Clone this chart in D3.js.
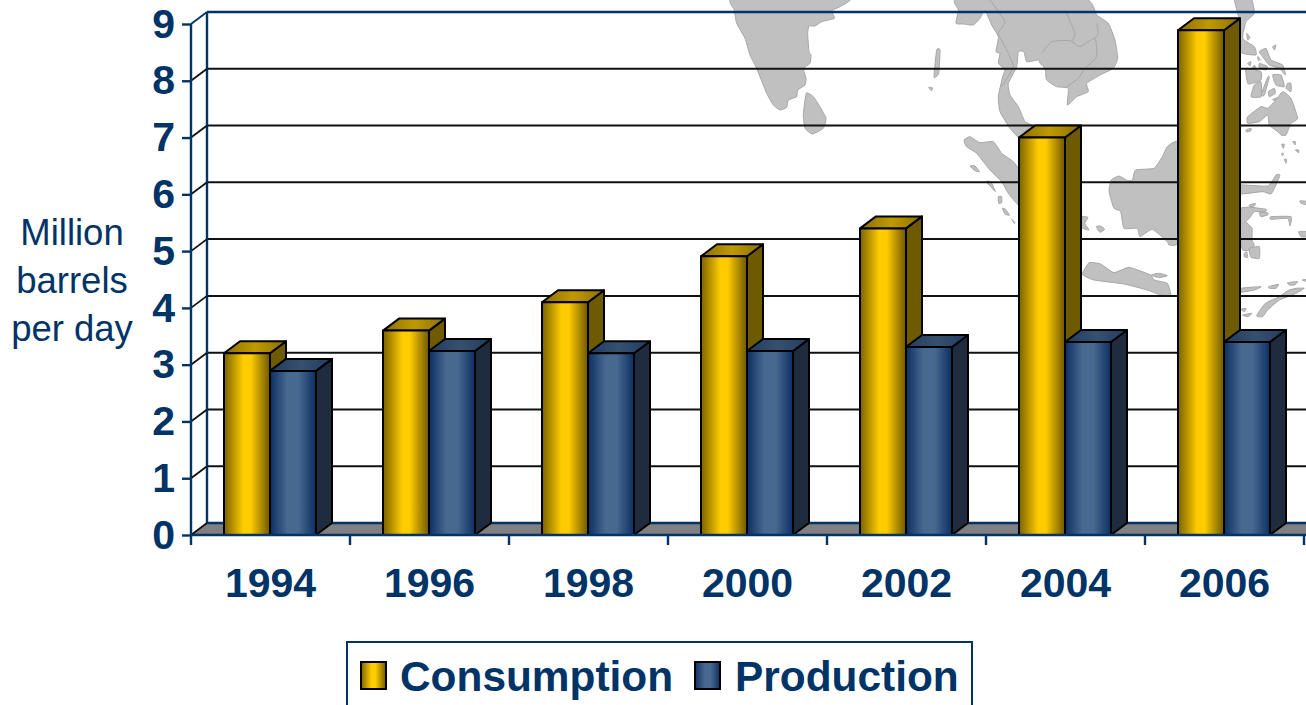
<!DOCTYPE html>
<html><head><meta charset="utf-8">
<script src="https://cdnjs.cloudflare.com/ajax/libs/d3/7.8.5/d3.min.js"></script>
<style>html,body{margin:0;padding:0;background:#fff;overflow:hidden}svg{display:block}text{font-family:"Liberation Sans",Arial,sans-serif;fill:#003366}</style>
</head><body><svg id="c" width="1306" height="705"></svg>
<script>
const years=["1994","1996","1998","2000","2002","2004","2006"];
const seriesNames=["Consumption","Production"];
const consumption=[3.2,3.6,4.1,4.91,5.4,7.0,8.89];
const production=[2.89,3.24,3.2,3.24,3.31,3.4,3.4];
const yTicks=[0,1,2,3,4,5,6,7,8,9];
const yTitle=["Million","barrels","per day"];

// Background map outlines: traced at 3x, each group has its own origin
const mapIndia={o:[725,0],s:[
 [[25,-6],[370,-6],[345,20],[320,32],[328,55],[290,65],[270,78],[252,78],[248,100],[252,155],[258,165],[255,190],[235,205],[243,235],[240,255],[218,270],[215,290],[190,300],[185,322],[165,330],[145,315],[125,280],[95,205],[75,165],[60,115],[35,70],[28,30]],
 [[245,278],[265,290],[285,320],[303,355],[295,385],[262,402],[240,385],[235,345],[240,300]]]};
const mapMainland={o:[950,0],s:[
 [[25,-6],[400,-6],[440,45],[475,70],[495,120],[503,175],[490,205],[450,225],[410,250],[415,275],[380,290],[352,315],[355,265],[320,260],[290,240],[285,205],[270,190],[265,180],[230,185],[222,155],[205,155],[200,200],[175,250],[180,285],[205,320],[225,365],[250,378],[215,400],[205,412],[180,385],[150,335],[145,290],[158,230],[165,210],[145,190],[150,160],[138,155],[145,110],[125,75],[105,30],[90,55],[70,75],[40,72],[18,70],[25,30]],
 [[-40,150],[-30,150],[-34,220],[-48,232]],[[-64,262],[-52,264],[-56,272]]]};
const mapBorders={o:[950,0],s:[
 [[350,40],[375,100],[365,125]],
 [[275,160],[305,125],[360,122],[390,140],[435,115],[440,170],[405,205],[385,235],[350,260]],
 [[120,0],[165,65],[145,100],[170,150],[190,200],[155,260]],
 [[440,70],[445,100],[435,115]]]};
const mapSumatra={o:[960,130],s:[
 [[12,30],[30,20],[60,38],[100,35],[125,70],[160,95],[178,125],[178,225],[145,190],[125,155],[90,120],[50,70],[20,50]],
 [[30,108],[45,108],[58,125],[45,122]],[[78,155],[92,155],[106,185],[92,170]],[[115,200],[125,200],[125,218],[116,220]],
 [[127,235],[137,238],[148,256],[135,252]],[[155,268],[165,278],[163,280]]]};
const mapBorneoJava={o:[1064,140],s:[
 [[135,150],[142,120],[165,108],[190,122],[205,120],[215,90],[270,85],[295,50],[310,20],[345,12],[345,300],[315,315],[310,305],[265,268],[228,290],[220,265],[180,265],[170,215],[150,205],[140,175]],
 [[55,403],[75,368],[110,372],[150,398],[195,382],[260,405],[270,420],[310,430],[320,465],[290,465],[250,450],[180,432],[90,420]],
 [[262,405],[285,400],[310,407],[285,413]],
 [[50,230],[72,232],[62,250],[75,270],[50,262]],
 [[97,260],[110,258],[122,268],[108,277]]]};
const mapPhilippines={o:[1226,0],s:[
 [[25,-6],[75,-6],[85,40],[60,65],[50,115],[85,140],[90,165],[42,155],[40,60]],
 [[100,155],[120,145],[135,180],[170,195],[178,225],[160,205],[130,195],[110,170]],
 [[62,100],[72,112],[65,120]],[[140,140],[150,135],[145,150]],[[95,170],[103,178],[97,182]],
 [[65,190],[75,185],[72,198]],[[85,195],[90,205],[80,202]],[[100,190],[125,200],[120,210],[100,205]],
 [[60,205],[105,215],[105,240],[80,250],[65,250]],[[125,232],[130,232],[115,285],[105,285]],
 [[85,255],[105,245],[105,290],[75,290]],[[140,225],[165,225],[175,260],[150,255]],
 [[127,275],[145,265],[148,280],[130,290]],[[185,250],[195,250],[195,275],[180,265]],[[140,298],[155,293],[145,303]],
 [[170,275],[195,295],[215,355],[195,370],[180,405],[165,405],[155,395],[130,375],[125,345],[100,365],[65,370],[65,350],[105,320],[125,325],[150,300]],
 [[60,390],[75,385],[75,392],[62,396]],[[167,433],[175,433],[172,445]],[[200,425],[208,425],[208,435]],
 [[208,450],[218,450],[218,458]],[[167,460],[172,460],[170,468]],[[175,478],[182,478],[180,490]]]};
const mapEast={o:[1226,170],s:[
 [[40,45],[125,48],[150,15],[162,15],[150,45],[135,72],[110,65],[40,72]],
 [[40,118],[75,112],[120,118],[118,125],[85,125],[70,145],[60,155],[78,175],[78,210],[85,225],[70,240],[50,240],[42,205]],
 [[70,105],[88,100],[85,108],[72,110]],[[100,128],[125,128],[125,135],[105,140]],
 [[135,140],[195,140],[192,168],[185,145],[135,148]],[[222,92],[246,95],[246,105],[225,100]],[[218,185],[246,185],[246,200],[225,200]],
 [[55,250],[62,245],[65,262],[55,260]],[[70,235],[100,230],[100,265],[75,262]],
 [[42,355],[105,350],[85,360],[42,367]],[[128,350],[158,343],[150,355],[130,355]],[[185,338],[215,335],[205,345],[190,345]],[[228,330],[246,328],[246,335]],
 [[185,362],[210,355],[235,355],[200,375],[160,390],[125,420],[110,440],[92,437],[118,400],[160,380]],
 [[45,418],[60,415],[55,425]],[[50,435],[78,430],[65,440]]]};

const svg=d3.select("#c");
const navy="#003366";
const depthX=16, depthY=12;
const axisX=191, baseY=535, topY=24, rightX=1304;

const x=d3.scaleBand().domain(years).range([axisX,rightX]);
const sub=d3.scaleBand().domain(seriesNames).range([33,125]);
const y=d3.scaleLinear().domain([0,9]).range([baseY,topY]);

const defs=svg.append("defs");
function grad(id,stops,horizontal=true){
  const g=defs.append("linearGradient").attr("id",id).attr("x1",0).attr("y1",0).attr("x2",horizontal?1:0).attr("y2",horizontal?0:1);
  stops.forEach(([o,c])=>g.append("stop").attr("offset",o).attr("stop-color",c));
}
grad("goldF",[[0,"#7a6200"],[.42,"#ffcc00"],[.58,"#ffcc00"],[1,"#6e5800"]]);
grad("goldT",[[0,"#8a6e00"],[.5,"#c09a00"],[1,"#8a6e00"]]);
grad("blueF",[[0,"#0c2f63"],[.38,"#47698f"],[.62,"#47698f"],[1,"#0c2f63"]]);
grad("blueT",[[0,"#223c63"],[.5,"#36506f"],[1,"#223c63"]]);

// map
const mapGroup=svg.append("g");
function drawMap(m,closed){
  const line=d3.line().x(d=>m.o[0]+d[0]/3).y(d=>m.o[1]+d[1]/3)
    .curve(closed?d3.curveCardinalClosed.tension(0.55):d3.curveCardinal.tension(0.55));
  mapGroup.append("g").selectAll("path").data(m.s).join("path").attr("d",line)
    .attr("fill",closed?"#c0c0c0":"none").attr("stroke","#a6a6a6").attr("stroke-width",1);
}
[mapIndia,mapMainland,mapSumatra,mapBorneoJava,mapPhilippines,mapEast].forEach(m=>drawMap(m,true));
drawMap(mapBorders,false);

// floor
svg.append("path").attr("d",d3.line()([[axisX,baseY],[axisX+depthX,baseY-depthY],[1306,baseY-depthY],[1306,baseY]])).attr("fill","#808080");

// gridlines on back wall
svg.append("g").selectAll("line").data(yTicks.filter(t=>t>0&&t<9)).join("line")
  .attr("x1",axisX+depthX).attr("x2",1306)
  .attr("y1",d=>y(d)-depthY).attr("y2",d=>y(d)-depthY)
  .attr("stroke","#111").attr("stroke-width",2);
svg.append("g").selectAll("line").data([0,9]).join("line")
  .attr("x1",axisX+depthX).attr("x2",1306)
  .attr("y1",d=>y(d)-depthY).attr("y2",d=>y(d)-depthY)
  .attr("stroke",navy).attr("stroke-width",2.4);
svg.append("line").attr("x1",axisX+depthX).attr("x2",axisX+depthX).attr("y1",y(9)-depthY).attr("y2",y(0)-depthY).attr("stroke",navy).attr("stroke-width",2.4);
svg.append("g").selectAll("line").data(yTicks).join("line")
  .attr("x1",axisX).attr("x2",axisX+depthX)
  .attr("y1",d=>y(d)).attr("y2",d=>y(d)-depthY)
  .attr("stroke",d=>d===9?navy:"#111").attr("stroke-width",1.8);

// bars
const rows=years.flatMap((yr,i)=>[
  {yr,s:"Consumption",v:consumption[i],f:"goldF",t:"goldT",side:"#6e5a00"},
  {yr,s:"Production",v:production[i],f:"blueF",t:"blueT",side:"#1f2b3f"}]);
const bars=svg.append("g").selectAll("g").data(rows).join("g");
function applyEdge(sel){return sel.attr("stroke","#000").attr("stroke-width",2).attr("stroke-linejoin","round");}
const X0=d=>x(d.yr)+sub(d.s), W=sub.bandwidth();
applyEdge(bars.append("path").attr("fill",d=>d.side)
  .attr("d",d=>d3.line()([[X0(d)+W,y(d.v)],[X0(d)+W+depthX,y(d.v)-depthY],[X0(d)+W+depthX,y(0)-depthY],[X0(d)+W,y(0)]])+"Z"));
applyEdge(bars.append("path").attr("fill",d=>`url(#${d.t})`)
  .attr("d",d=>d3.line()([[X0(d),y(d.v)],[X0(d)+depthX,y(d.v)-depthY],[X0(d)+W+depthX,y(d.v)-depthY],[X0(d)+W,y(d.v)]])+"Z"));
applyEdge(bars.append("rect").attr("fill",d=>`url(#${d.f})`)
  .attr("x",X0).attr("y",d=>y(d.v)).attr("width",W).attr("height",d=>y(0)-y(d.v)));

// axes
const yAxis=svg.append("g").attr("transform",`translate(${axisX},0)`)
  .call(d3.axisLeft(y).tickValues(yTicks).tickFormat(d3.format("d")).tickSize(9).tickPadding(7));
yAxis.selectAll("path").attr("stroke",navy).attr("stroke-width",2.4).attr("d",`M0,${y(9)}V${baseY+10}`);
yAxis.selectAll("line").attr("stroke",navy).attr("stroke-width",2.4);
yAxis.selectAll("text").attr("font-size",41).attr("font-weight","bold").attr("font-family","Liberation Sans").attr("fill",navy);

const xAxis=svg.append("g").attr("transform",`translate(0,${baseY})`)
  .call(d3.axisBottom(x).tickSize(0).tickPadding(33));
xAxis.selectAll("path").attr("stroke",navy).attr("stroke-width",2.4).attr("d",`M${axisX},0H1306`);
xAxis.selectAll("text").attr("font-size",41).attr("font-weight","bold").attr("font-family","Liberation Sans").attr("fill",navy);
svg.append("g").selectAll("line").data(years).join("line")
  .attr("x1",d=>x(d)+x.step()).attr("x2",d=>x(d)+x.step())
  .attr("y1",baseY).attr("y2",baseY+10).attr("stroke",navy).attr("stroke-width",2.4);

// y title
svg.append("g").selectAll("text").data(yTitle).join("text")
  .attr("x",72).attr("y",(d,i)=>245+i*48).attr("text-anchor","middle").attr("font-size",36.5).text(d=>d);

// legend
const lg=svg.append("g");
lg.append("rect").attr("x",347).attr("y",642).attr("width",625).attr("height",90).attr("fill","#fff").attr("stroke",navy).attr("stroke-width",2);
const legendItems=[{s:seriesNames[0],f:"goldF",sx:361,tx:400},{s:seriesNames[1],f:"blueF",sx:695,tx:735}];
legendItems.forEach(d=>{
  lg.append("rect").attr("x",d.sx).attr("y",662).attr("width",25).attr("height",27).attr("fill",`url(#${d.f})`).attr("stroke","#000").attr("stroke-width",2);
  lg.append("text").attr("x",d.tx).attr("y",691).attr("font-size",42.4).attr("font-weight","bold").text(d.s);
});
</script></body></html>
